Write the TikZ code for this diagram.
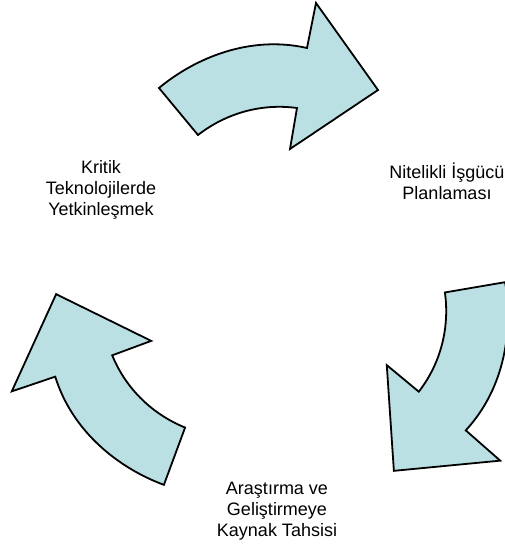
\documentclass[tikz,border=0pt]{standalone}
\usepackage{fontspec}
\setmainfont{Liberation Sans}
\definecolor{cycfill}{RGB}{187,224,228}
\tikzset{arw/.style={draw=black, line width=1.8pt, fill=cycfill, line join=miter},
  lbl/.style={align=center, inner sep=0pt, font=\fontsize{18}{21}\selectfont}}

\begin{document}
\begin{tikzpicture}[x=1pt, y=-1pt]
  \useasboundingbox (0,0) rectangle (505,546);
  % centre of the cycle
  \coordinate (mid) at (276,285);
  % three curved arrows, one shape turned by 120 degrees each time
  \foreach \ang in {0,-120,-240}{
    \draw[arw, rotate around={\ang:(mid)}]
      (159,88) .. controls (195,58) and (250,35) .. (307,48)
      -- (316,3) -- (378,90) -- (290,149) -- (297,108)
      .. controls (260,103) and (225,114) .. (198,135) -- cycle;
  }
  % labels
  \node[lbl] (kritik) at (101,190) {Kritik\\Teknolojilerde\\Yetkinleşmek};
  \node[lbl] (nitelikli) at (447,181) {Nitelikli İşgücü\\Planlaması};
  \node[lbl] (arastirma) at (277,511) {Araştırma ve\\Geliştirmeye\\Kaynak Tahsisi};
\end{tikzpicture}
\end{document}
